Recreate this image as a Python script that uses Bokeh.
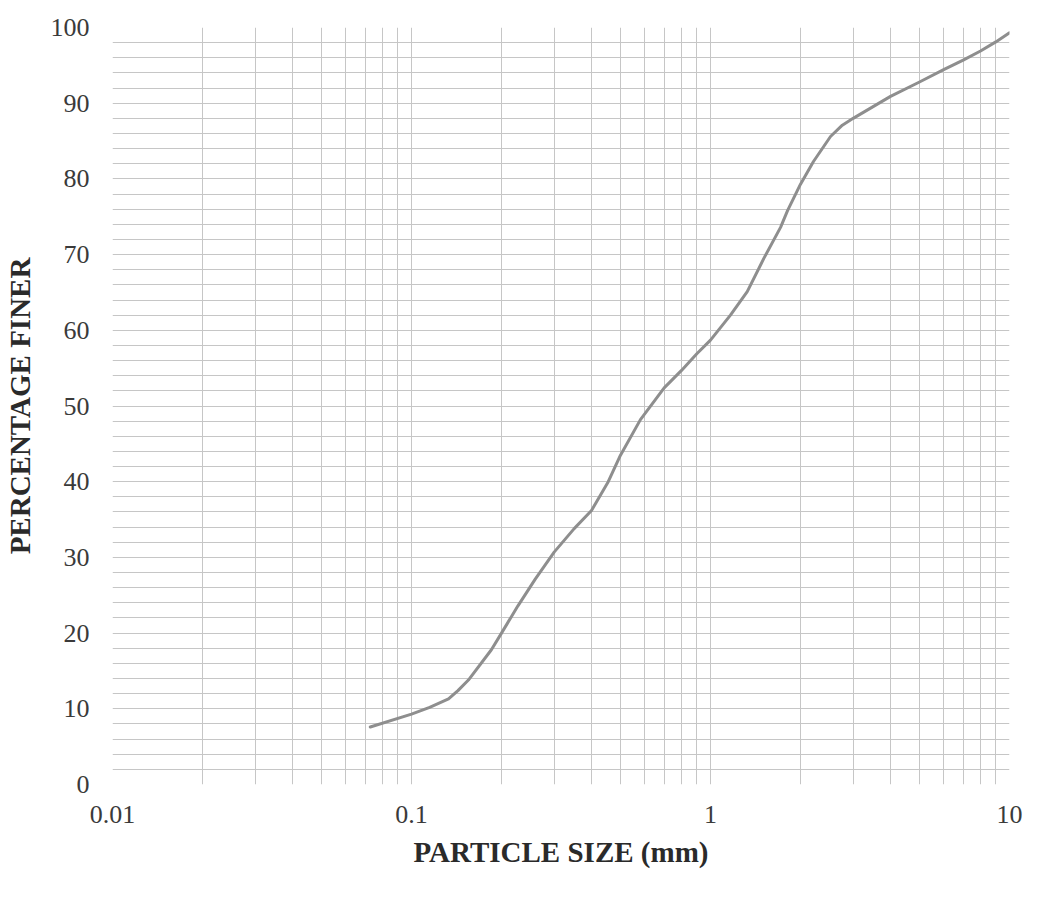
from bokeh.plotting import figure
from bokeh.models import Range1d, FixedTicker, CustomJSTickFormatter
from bokeh.embed import file_html
from bokeh.resources import INLINE

# Particle-size distribution curve
size_mm = [0.0728, 0.1, 0.115, 0.133, 0.143, 0.155, 0.185, 0.2, 0.227, 0.259,
           0.3, 0.35, 0.4, 0.455, 0.5, 0.583, 0.7, 0.8, 0.9, 1.0, 1.166, 1.327,
           1.508, 1.715, 1.81, 2.0, 2.21, 2.52, 2.76, 3.0, 4.0, 5.0, 6.0, 7.0,
           8.0, 9.0, 10.0]
pct_finer = [7.6, 9.3, 10.2, 11.3, 12.4, 13.8, 17.8, 20.0, 23.6, 27.1,
             30.7, 33.8, 36.2, 40.0, 43.5, 48.2, 52.4, 54.7, 56.9, 58.7, 62.0, 65.1,
             69.5, 73.6, 75.8, 79.3, 82.3, 85.6, 87.1, 88.0, 90.9, 92.8, 94.4, 95.7,
             96.9, 98.1, 99.3]

x_ticks = [0.01, 0.1, 1, 10]
y_ticks = [0, 10, 20, 30, 40, 50, 60, 70, 80, 90, 100]
grid_x = [0.01, 0.02, 0.03, 0.04, 0.05, 0.06, 0.07, 0.08, 0.09,
          0.1, 0.2, 0.3, 0.4, 0.5, 0.6, 0.7, 0.8, 0.9,
          1, 2, 3, 4, 5, 6, 7, 8, 9, 10]
grid_y = list(range(0, 101, 2))

FONT = "Liberation Serif"

p = figure(x_axis_type="log", x_range=Range1d(0.01, 10), y_range=Range1d(0, 100),
           frame_width=897, frame_height=757,
           min_border_left=106, min_border_top=27, min_border_right=20,
           min_border_bottom=100,
           output_backend="svg", toolbar_location=None)
p.outline_line_color = None
p.background_fill_color = "white"
p.border_fill_color = "white"

# grids (graph paper)
p.xgrid.ticker = FixedTicker(ticks=grid_x)
p.ygrid.ticker = FixedTicker(ticks=grid_y)
for g in (p.xgrid, p.ygrid):
    g.grid_line_color = "#c6c6c6"
    g.grid_line_width = 1

# axes
p.xaxis.ticker = FixedTicker(ticks=x_ticks)
p.xaxis.formatter = CustomJSTickFormatter(code="return tick.toString();")
p.yaxis.ticker = FixedTicker(ticks=y_ticks)
for ax in (p.xaxis, p.yaxis):
    ax.axis_line_color = None
    ax.major_tick_line_color = None
    ax.minor_tick_line_color = None
    ax.major_tick_out = 0
    ax.major_tick_in = 0
    ax.minor_tick_out = 0
    ax.minor_tick_in = 0
    ax.major_label_text_font = FONT
    ax.major_label_text_font_size = "26px"
    ax.major_label_text_color = "#3a3a3a"
    ax.axis_label_text_font = FONT
    ax.axis_label_text_font_size = "29px"
    ax.axis_label_text_font_style = "bold"
    ax.axis_label_text_color = "#2a2a2a"

p.xaxis.axis_label = "PARTICLE SIZE (mm)"
p.yaxis.axis_label = "PERCENTAGE FINER"
p.xaxis.major_label_standoff = 21
p.xaxis.axis_label_standoff = 10
p.yaxis.major_label_standoff = 23
p.yaxis.axis_label_standoff = 12

p.line(size_mm, pct_finer, line_color="#8e8e8e", line_width=3,
       line_join="round", line_cap="round")

open("out.html", "w").write(file_html(p, INLINE))
